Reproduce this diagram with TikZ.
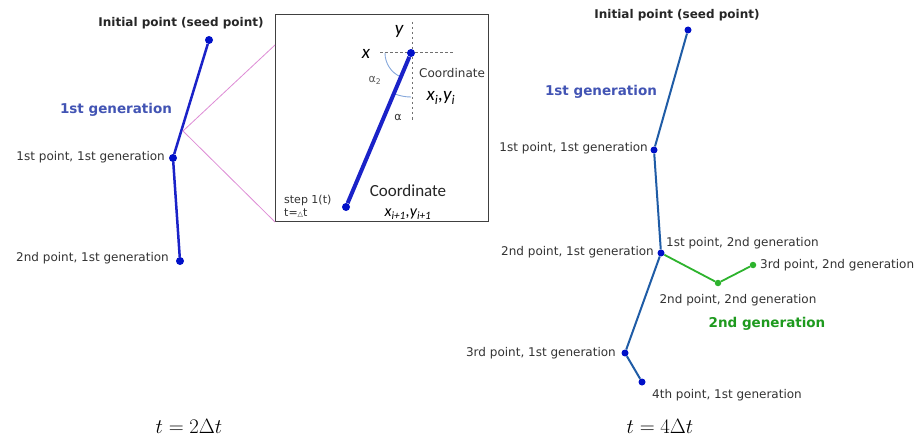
\documentclass[tikz,border=0pt]{standalone}
\usepackage{fontspec}
\setmainfont{DejaVu Sans}
\newfontfamily\calib{Carlito}
\definecolor{dotblue}{HTML}{0010C8}
\definecolor{lineleft}{HTML}{1A22C8}
\definecolor{lineright}{HTML}{1F5CA6}
\definecolor{genblue}{HTML}{4254B4}
\definecolor{ggreen}{HTML}{2DB32D}
\definecolor{genggreen}{HTML}{1E9A1E}
\definecolor{pinkl}{HTML}{DE8CD6}
\definecolor{arcblue}{HTML}{86A8DC}
\definecolor{labgray}{HTML}{333333}
\definecolor{dashg}{HTML}{707070}
\tikzset{
  dotA/.style={circle, fill=dotblue, inner sep=0pt, minimum size=8pt},
  dotB/.style={circle, fill=dotblue, inner sep=0pt, minimum size=7pt},
  dotG/.style={circle, fill=ggreen, inner sep=0pt, minimum size=6.5pt},
  lab/.style={text=labgray, font=\fontsize{12}{14}\selectfont, inner sep=0pt},
  titlelab/.style={text=black!85, font=\bfseries\fontsize{12}{14}\selectfont, inner sep=0pt},
  genlab/.style={font=\bfseries\fontsize{13.5}{16}\selectfont, inner sep=0pt},
  dashline/.style={draw=dashg, dash pattern=on 2.5pt off 2.5pt, line width=1pt},
  arcline/.style={draw=arcblue, line width=0.9pt},
  mathlab/.style={font=\fontsize{20}{24}\selectfont, inner sep=0pt}
}
\begin{document}
\begin{tikzpicture}[x=1pt,y=-1pt]
\useasboundingbox[fill=white] (0,0) rectangle (919,436);

% ---------- left panel ----------
\node[dotA] (L0) at (209,40) {};
\node[dotA] (L1) at (173,158) {};
\node[dotA] (L2) at (180,261) {};
\draw[lineleft, line width=2.5pt] (L0) -- (L1) -- (L2);

\node[titlelab] (Ltitle) at (181,23) {Initial point (seed point)};
\node[genlab, text=genblue] (Lgen) at (116,110) {1st generation};
\node[lab, anchor=east] (L1lab) at (165,157) {1st point, 1st generation};
\node[lab, anchor=east] (L2lab) at (169,258) {2nd point, 1st generation};

% ---------- zoom inset ----------
\node[draw=black!75, line width=1pt, minimum width=213pt, minimum height=207pt,
      inner sep=0pt, anchor=north west] (inset) at (275,14) {};
\coordinate (zsrc) at (183,131);
\coordinate (pinkA) at (275,45);
\draw[pinkl, line width=0.8pt] (pinkA) -- (zsrc) -- (inset.south west);

\coordinate (Tc) at (411,53);
\coordinate (hL) at (380,53);
\coordinate (hR) at (453,53);
\coordinate (vT) at (412,22);
\coordinate (vB) at (412,121);
\draw[dashline] (hL) -- (hR);
\draw[dashline] (vT) -- (vB);
\draw[arcline] (Tc) ++(180:26) arc[start angle=180, end angle=113, radius=26];
\draw[arcline] (Tc) ++(113:44) arc[start angle=113, end angle=90, radius=44];

\node[dotA] (T) at (Tc) {};
\node[dotA] (B) at (346,207) {};
\draw[lineleft, line width=4pt] (T) -- (B);

\node[inner sep=0pt, font=\calib\itshape\fontsize{19}{22}\selectfont] (ylab) at (399,31) {y};
\node[inner sep=0pt, font=\calib\itshape\fontsize{19}{22}\selectfont] (xlab) at (366,54) {x};
\node[lab, anchor=west] (coo1) at (419,73) {Coordinate};
\node[inner sep=0pt, font=\calib\itshape\fontsize{19}{22}\selectfont] (xiyi) at (441,98)
  {x\textsubscript{i},y\textsubscript{i}};
\node[inner sep=0pt, text=labgray!80, font=\fontsize{11}{13}\selectfont] (a2) at (375,80) {α\textsubscript{2}};
\node[inner sep=0pt, text=labgray, font=\fontsize{11}{13}\selectfont] (a1) at (398,117) {α};
\node[inner sep=0pt, text=black!85, font=\calib\fontsize{17}{20}\selectfont] (coo2) at (408,191) {Coordinate};
\node[inner sep=0pt, font=\calib\itshape\fontsize{16}{19}\selectfont] (xiyi1) at (408,214)
  {x\textsubscript{i+1},y\textsubscript{i+1}};
\node[lab, anchor=west, font=\fontsize{11}{13}\selectfont] (step) at (284,200) {step 1(t)};
\node[lab, anchor=west, font=\fontsize{11}{13}\selectfont] (dt) at (284,213) {t={\fontsize{7}{8}\selectfont△}t};

% ---------- right panel ----------
\node[dotB] (R0) at (688,30) {};
\node[dotB] (R1) at (654,150) {};
\node[dotB] (R2) at (661,253) {};
\node[dotB] (R3) at (625,353) {};
\node[dotB] (R4) at (642,382) {};
\node[dotG] (G2) at (718,283) {};
\node[dotG] (G3) at (753,265) {};
\draw[lineright, line width=2pt] (R0) -- (R1) -- (R2) -- (R3) -- (R4);
\draw[ggreen, line width=1.8pt] (R2) -- (G2) -- (G3);

\node[titlelab] (Rtitle) at (677,15) {Initial point (seed point)};
\node[genlab, text=genblue] (Rgen) at (601,92) {1st generation};
\node[lab, anchor=east] (R1lab) at (648,148) {1st point, 1st generation};
\node[lab, anchor=east] (R2lab) at (654,252) {2nd point, 1st generation};
\node[lab, anchor=west] (G1lab) at (666,243) {1st point, 2nd generation};
\node[lab, anchor=west] (G3lab) at (760,265) {3rd point, 2nd generation};
\node[lab] (G2lab) at (738,300) {2nd point, 2nd generation};
\node[genlab, text=genggreen] (Ggen) at (767,324) {2nd generation};
\node[lab, anchor=east] (R3lab) at (616,353) {3rd point, 1st generation};
\node[lab] (R4lab) at (727,395) {4th point, 1st generation};

% ---------- time labels ----------
\node[mathlab] (t1) at (189,426) {$t = 2\Delta t$};
\node[mathlab] (t2) at (660,426) {$t = 4\Delta t$};
\end{tikzpicture}
\end{document}
